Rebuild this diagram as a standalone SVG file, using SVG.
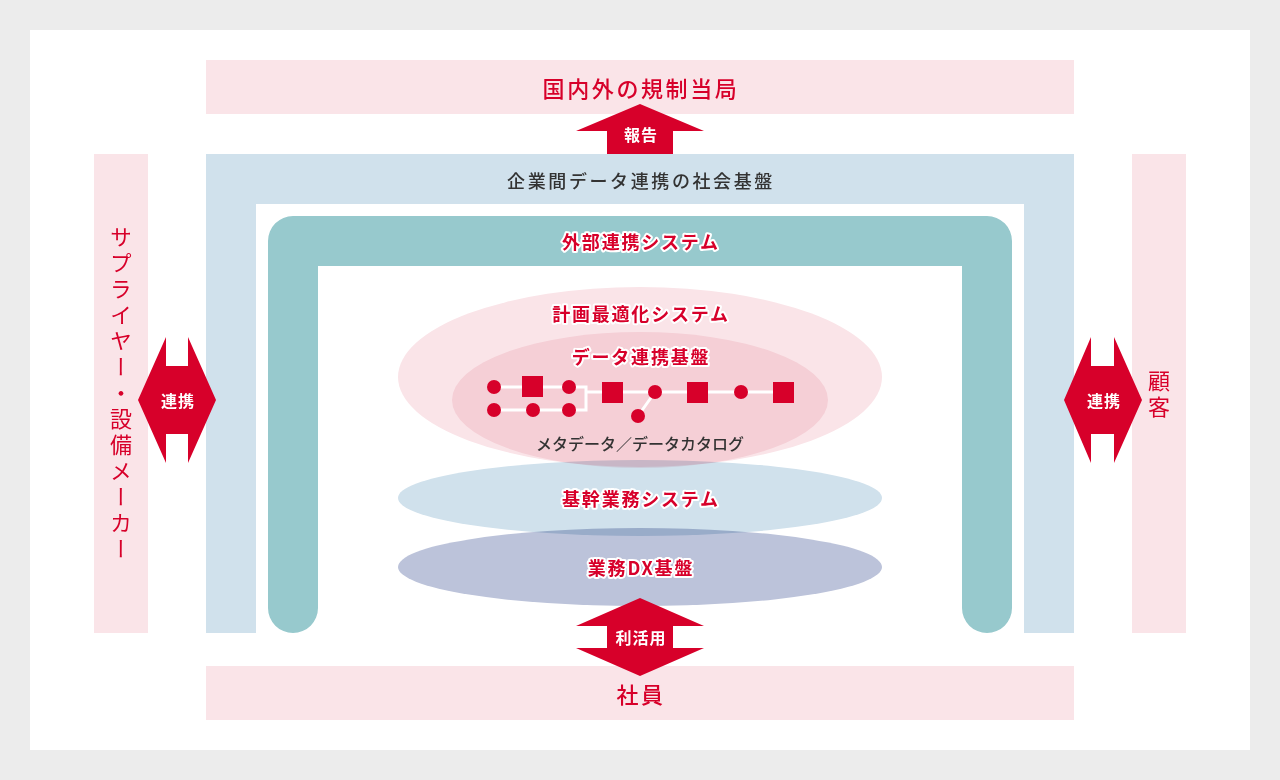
<svg xmlns="http://www.w3.org/2000/svg" width="1280" height="780" viewBox="0 0 1280 780">
<style>
.pink{fill:#fae4e8}
.blue{fill:#d0e1ec}
.teal{fill:#97c9cd}
.red{fill:#d7002a}
.t{font-family:"Noto Sans CJK JP","Noto Sans",sans-serif;text-anchor:middle;dominant-baseline:central}
.big{font-size:22px;fill:#d7002a;font-weight:500;letter-spacing:2.6px}
.hd{font-size:18px;fill:#333;font-weight:500;letter-spacing:2.6px}
.lbl{font-size:18px;fill:#d7002a;font-weight:700;letter-spacing:1.8px;stroke:#fff;stroke-width:4px;stroke-linejoin:round;paint-order:stroke}
.arr{font-size:16px;fill:#fff;font-weight:700;letter-spacing:1px}
.vert{font-size:22px;fill:#d7002a;font-weight:400;writing-mode:vertical-rl;text-anchor:start;dominant-baseline:central;letter-spacing:4px}
.ell{mix-blend-mode:multiply}
.net{stroke:#fff;stroke-width:3;fill:none}
</style>
<rect x="0" y="0" width="1280" height="780" fill="#ececec"/>
<rect x="30" y="30" width="1220" height="720" fill="#fff"/>

<g id="regulators">
<rect class="pink" x="206" y="60" width="868" height="54"/>
<text class="t big" x="641" y="87">国内外の規制当局</text>
</g>

<g id="social-platform">
<path class="blue" d="M206,154 H1074 V633 H1024 V204 H256 V633 H206 Z"/>
<text class="t hd" x="641" y="180">企業間データ連携の社会基盤</text>
</g>

<g id="external-system">
<path class="teal" d="M268,608 V241 A25,25 0 0 1 293,216 H987 A25,25 0 0 1 1012,241 V608 A25,25 0 0 1 962,608 V266 H318 V608 A25,25 0 0 1 268,608 Z"/>
<text class="t lbl" x="641" y="241">外部連携システム</text>
</g>

<g id="suppliers">
<rect class="pink" x="94" y="154" width="54" height="479"/>
<text class="t vert" x="121" y="226">サプライヤー・設備メーカー</text>
</g>

<g id="customers">
<rect class="pink" x="1132" y="154" width="54" height="479"/>
<text class="t vert" x="1159" y="370">顧客</text>
</g>

<g id="employees">
<rect class="pink" x="206" y="666" width="868" height="54"/>
<text class="t big" x="641" y="693">社員</text>
</g>

<g id="layers">
<g style="isolation:isolate">
<ellipse class="ell" cx="640" cy="377" rx="242" ry="90" fill="#fae4e8"/>
<ellipse class="ell" cx="640" cy="400" rx="188" ry="68" fill="#fae8ec"/>
<ellipse class="ell" cx="640" cy="498" rx="242" ry="38" fill="#d0e1ec"/>
<ellipse class="ell" cx="640" cy="567" rx="242" ry="39" fill="#bcc3da"/>
</g>
<g id="data-network">
<path class="net" d="M494,387 H586 V410 H494 M586,392 H783 M655,392 L638,416"/>
<g class="red">
<circle cx="494" cy="387" r="7"/>
<rect x="522" y="376" width="21" height="21"/>
<circle cx="569" cy="387" r="7"/>
<circle cx="494" cy="410" r="7"/>
<circle cx="533" cy="410" r="7"/>
<circle cx="569" cy="410" r="7"/>
<rect x="602" y="382" width="21" height="21"/>
<circle cx="655" cy="392" r="7"/>
<circle cx="638" cy="416" r="7"/>
<rect x="687" y="382" width="21" height="21"/>
<circle cx="741" cy="392" r="7"/>
<rect x="773" y="382" width="21" height="21"/>
</g>
</g>
<text class="t lbl" x="641" y="313">計画最適化システム</text>
<text class="t lbl" x="641" y="356">データ連携基盤</text>
<text class="t" x="640" y="443" style="font-size:16px;fill:#333;font-weight:500">メタデータ／データカタログ</text>
<text class="t lbl" x="641" y="498">基幹業務システム</text>
<text class="t lbl" x="641" y="567">業務DX基盤</text>
</g>

<g id="connectors">
<g id="arrow-report">
<polygon class="red" points="640,104 704,131 673,131 673,154 607,154 607,131 576,131"/>
<text class="t arr" x="641" y="134">報告</text>
</g>
<g id="arrow-left">
<polygon class="red" points="138,400 166,337 166,366 188,366 188,337 216,400 188,463 188,434 166,434 166,463"/>
<text class="t arr" x="178" y="400">連携</text>
</g>
<g id="arrow-right">
<polygon class="red" points="1064,400 1091,337 1091,366 1114,366 1114,337 1142,400 1114,463 1114,434 1091,434 1091,463"/>
<text class="t arr" x="1104" y="400">連携</text>
</g>
<g id="arrow-use">
<polygon class="red" points="640,598 704,626 673,626 673,648 704,648 640,676 576,648 607,648 607,626 576,626"/>
<text class="t arr" x="641" y="637">利活用</text>
</g>
</g>
</svg>
